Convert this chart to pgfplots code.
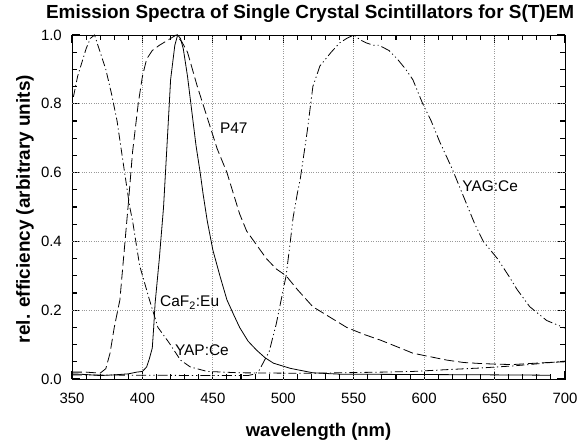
\documentclass[border=0pt]{standalone}
\usepackage{fontspec}
\setmainfont{Liberation Sans}
\usepackage{pgfplots}
\pgfplotsset{compat=1.18}
\begin{document}
\begin{tikzpicture}
% picture frame: 580 x 441, axis box 493 x 344 at (72,35) from top left
\useasboundingbox (-72bp,-62bp) rectangle (508bp,379bp);
\begin{axis}[
  at={(0,0)}, anchor=south west,
  scale only axis, width=493bp, height=344bp,
  xmin=350, xmax=700, ymin=0, ymax=1,
  xtick={350,400,...,700}, ytick={0,0.2,...,1.0},
  minor x tick num=4, minor y tick num=3,
  tick align=inside, xtick pos=both, ytick pos=both,
  major tick length=8bp, minor tick length=5bp,
  every minor tick/.append style={black, solid, line width=1.1pt},
  every major tick/.append style={black, solid, line width=1.1pt},
  axis line style={line width=0.9pt},
  % dotted grid drawn through extra ticks of zero length
  extra x ticks={400,450,...,650}, extra y ticks={0.2,0.4,0.6,0.8},
  extra x tick labels={}, extra y tick labels={},
  extra tick style={grid=major, major tick length=0pt,
    major grid style={black!40, dotted, line width=0.8pt}},
  /pgf/number format/assume math mode=true,
  yticklabel style={/pgf/number format/fixed, /pgf/number format/fixed zerofill,
    /pgf/number format/precision=1, inner sep=0pt, xshift=-10bp},
  xticklabel style={inner sep=0pt, yshift=-14bp, /pgf/number format/1000 sep={}},
  scaled y ticks=false,
  tick label style={font=\fontsize{15}{18}\selectfont},
  title={Emission Spectra of Single Crystal Scintillators for S(T)EM},
  title style={font=\fontsize{19}{22}\selectfont\bfseries, at={(0.483,1.032)}, anchor=base, inner sep=0pt},
  xlabel={wavelength (nm)},
  xlabel style={font=\fontsize{18.5}{22}\selectfont\bfseries, at={(0.5,-0.166)}, anchor=base, inner sep=0pt},
  ylabel={rel. efficiency (arbitrary units)},
  ylabel style={font=\fontsize{19}{22}\selectfont\bfseries, at={(-0.0852,0.494)}, anchor=base, inner sep=0pt},
  clip=true,
]
% YAP:Ce
\addplot[black, line width=0.8pt, dash pattern=on 8bp off 3bp on 1.2bp off 3bp] coordinates {
(351,0.82) (354,0.88) (357,0.92) (360,0.96) (363,0.99) (366,1.0) (370,0.95)
(374,0.90) (378,0.83) (382,0.75) (387,0.61) (391,0.50) (393,0.46) (398,0.33)
(405,0.23) (411,0.15) (419,0.105) (427,0.055) (434,0.035) (446,0.022)
(469,0.018) (500,0.017) (521,0.017) (540,0.018) (570,0.02) (592,0.022)
(615,0.027) (640,0.032) (663,0.038) (680,0.044) (700,0.052)
};
% P47
\addplot[black, line width=0.8pt, dash pattern=on 10bp off 4bp] coordinates {
(350,0.02) (360,0.02) (370,0.017) (374,0.03) (377,0.075) (380,0.15) (384,0.23)
(387,0.37) (390,0.51) (393,0.66) (397,0.80) (400,0.88) (403,0.93) (407,0.955)
(412,0.97) (416,0.98) (420,0.99) (424,1.0) (428,0.98) (432,0.95) (439,0.85)
(446,0.76) (453,0.67) (460,0.60) (469,0.48) (474,0.43) (481,0.39) (488,0.35)
(495,0.32) (502,0.30) (510,0.26) (521,0.21) (533,0.18) (545,0.15) (557,0.13)
(569,0.113) (580,0.095) (592,0.075) (604,0.065) (616,0.055) (628,0.048)
(640,0.045) (652,0.043) (663,0.042) (675,0.045) (688,0.048) (700,0.05)
};
% CaF2:Eu
\addplot[black, line width=0.8pt, solid] coordinates {
(350,0.015) (360,0.013) (370,0.01) (380,0.012) (390,0.015) (396,0.02)
(400,0.022) (403,0.035) (405,0.06) (407,0.09) (408,0.15) (409,0.22)
(412,0.35) (415,0.50) (418,0.72) (420,0.87) (423,0.97) (425,1.0) (427,0.99)
(429,0.96) (432,0.88) (435,0.78) (438,0.68) (441,0.60) (443,0.54) (446,0.46)
(450,0.375) (455,0.30) (460,0.23) (465,0.185) (469,0.15) (475,0.11)
(481,0.084) (487,0.062) (493,0.046) (505,0.031) (521,0.018) (540,0.014)
(600,0.013) (650,0.012) (690,0.011)
};
% YAG:Ce
\addplot[black, line width=0.8pt, dash pattern=on 10bp off 3bp on 1.2bp off 3bp on 1.2bp off 3bp] coordinates {
(350,0.012) (400,0.011) (450,0.01) (475,0.01) (480,0.015) (483,0.026)
(490,0.08) (495,0.16) (499,0.24) (502,0.30) (505,0.40) (507,0.47) (510,0.54)
(512,0.58) (517,0.72) (521,0.85) (526,0.91) (534,0.95) (540,0.977) (545,0.99)
(550,1.0) (555,0.985) (559,0.977) (564,0.97) (568,0.97) (575,0.955)
(581,0.93) (587,0.90) (592,0.87) (599,0.80) (605,0.75) (611,0.69) (620,0.61)
(630,0.51) (636,0.45) (642,0.40) (652,0.35) (660,0.30) (666,0.26) (675,0.21)
(687,0.17) (700,0.148)
};
\begin{scope}[every node/.style={font=\fontsize{15.5}{18}\selectfont, inner sep=0pt, anchor=west}]
\node at (axis cs:455,0.73) {P47};
\node at (axis cs:627,0.56) {YAG:Ce};
\node at (axis cs:412.5,0.222) {CaF\textsubscript{2}:Eu};
\node at (axis cs:423,0.084) {YAP:Ce};
\end{scope}
\end{axis}
\end{tikzpicture}
\end{document}
